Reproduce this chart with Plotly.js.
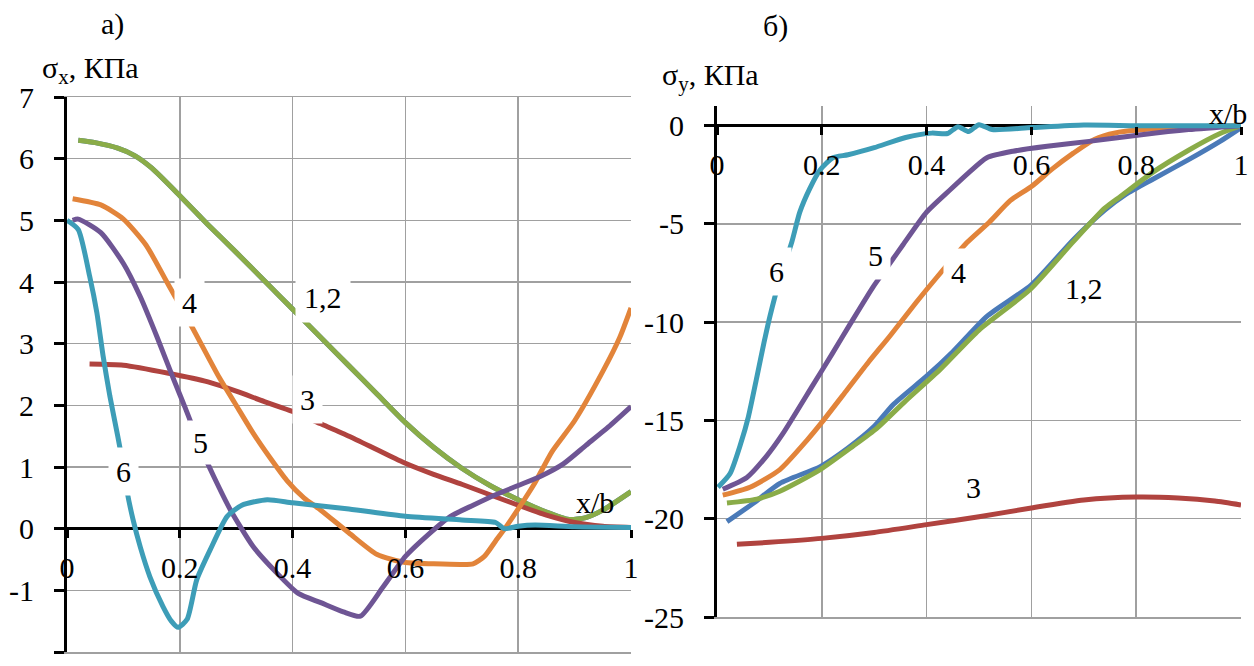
<!DOCTYPE html>
<html><head><meta charset="utf-8">
<script src="https://cdn.plot.ly/plotly-3.0.1.min.js"></script>
<style>html,body{margin:0;padding:0;background:#fff}#chart{width:1254px;height:666px}</style>
</head><body><div id="chart"></div>
<script>
// ---------- σx (left panel a) ----------
const sx1_x = [0.02,0.05,0.09,0.12,0.15,0.2,0.25,0.3,0.35,0.4,0.45,0.5,0.55,0.6,0.65,0.7,0.75,0.8,0.85,0.89,0.92,0.95,1.0];
const sx1_y = [6.30,6.26,6.17,6.05,5.85,5.4,4.93,4.48,4.02,3.56,3.1,2.64,2.18,1.72,1.32,0.98,0.7,0.47,0.27,0.15,0.18,0.3,0.6];
const sx2_x = [0.02,0.05,0.09,0.12,0.15,0.2,0.25,0.3,0.35,0.4,0.45,0.5,0.55,0.6,0.65,0.7,0.75,0.8,0.85,0.89,0.92,0.95,1.0];
const sx2_y = [6.30,6.26,6.17,6.05,5.85,5.4,4.93,4.48,4.02,3.56,3.1,2.64,2.18,1.72,1.32,0.98,0.7,0.47,0.27,0.15,0.18,0.3,0.6];
const sx3_x = [0.04,0.1,0.18,0.25,0.3,0.35,0.4,0.45,0.5,0.55,0.6,0.65,0.7,0.75,0.8,0.85,0.9,0.95,1.0];
const sx3_y = [2.67,2.65,2.52,2.38,2.23,2.06,1.9,1.7,1.5,1.28,1.06,0.88,0.72,0.55,0.38,0.22,0.1,0.04,0.02];
const sx4_x = [0.01,0.06,0.1,0.14,0.18,0.22,0.27,0.3,0.33,0.36,0.39,0.42,0.45,0.5,0.55,0.6,0.65,0.7,0.72,0.74,0.76,0.78,0.8,0.83,0.86,0.9,0.95,0.98,1.0];
const sx4_y = [5.35,5.25,5.02,4.6,3.95,3.3,2.45,2.0,1.55,1.15,0.78,0.5,0.3,-0.07,-0.42,-0.55,-0.57,-0.58,-0.57,-0.45,-0.2,0.05,0.32,0.75,1.25,1.75,2.55,3.1,3.58];
const sx5_x = [0.01,0.02,0.06,0.1,0.13,0.16,0.19,0.21,0.24,0.26,0.29,0.33,0.37,0.41,0.45,0.49,0.52,0.56,0.6,0.64,0.68,0.72,0.76,0.8,0.84,0.88,0.92,0.96,1.0];
const sx5_y = [5.0,5.02,4.8,4.3,3.76,3.1,2.4,1.95,1.25,0.85,0.3,-0.29,-0.7,-1.05,-1.2,-1.35,-1.42,-0.95,-0.45,-0.1,0.2,0.38,0.55,0.7,0.85,1.05,1.35,1.65,1.98];
const sx6_x = [0.0,0.02,0.04,0.053,0.064,0.076,0.09,0.1,0.106,0.117,0.13,0.147,0.17,0.185,0.197,0.213,0.23,0.254,0.284,0.31,0.355,0.4,0.5,0.6,0.7,0.76,0.775,0.8,0.83,0.9,1.0];
const sx6_y = [5.0,4.85,4.1,3.5,2.8,2.15,1.5,1.0,0.63,0.15,-0.3,-0.78,-1.26,-1.5,-1.6,-1.47,-0.83,-0.34,0.2,0.38,0.47,0.42,0.32,0.2,0.14,0.1,0.0,0.04,0.06,0.03,0.02];

// ---------- σy (right panel б) ----------
const sy1_x = [0.019,0.07,0.12,0.197,0.25,0.3,0.336,0.4,0.45,0.515,0.6,0.68,0.74,0.78,0.83,0.9,0.96,1.0];
const sy1_y = [-20.15,-19.2,-18.2,-17.35,-16.4,-15.3,-14.2,-12.75,-11.5,-9.7,-8.1,-5.8,-4.3,-3.5,-2.75,-1.73,-0.8,-0.1];
const sy2_x = [0.019,0.076,0.12,0.197,0.26,0.305,0.36,0.426,0.5,0.597,0.68,0.74,0.77,0.83,0.9,0.96,1.0];
const sy2_y = [-19.2,-19.0,-18.6,-17.5,-16.3,-15.4,-14.0,-12.4,-10.4,-8.35,-5.9,-4.2,-3.6,-2.4,-1.25,-0.4,0.0];
const sy3_x = [0.038,0.1,0.2,0.3,0.4,0.5,0.6,0.7,0.8,0.88,0.95,1.0];
const sy3_y = [-21.3,-21.2,-21.0,-20.7,-20.3,-19.9,-19.45,-19.05,-18.9,-18.95,-19.1,-19.3];
const sy4_x = [0.011,0.063,0.12,0.172,0.2,0.248,0.29,0.33,0.38,0.42,0.477,0.52,0.56,0.6,0.64,0.68,0.72,0.76,0.87,1.0];
const sy4_y = [-18.8,-18.4,-17.5,-16.0,-15.1,-13.45,-12.0,-10.7,-9.0,-7.7,-5.95,-4.9,-3.8,-3.1,-2.2,-1.4,-0.7,-0.37,-0.1,0.0];
const sy5_x = [0.011,0.057,0.095,0.125,0.183,0.22,0.254,0.298,0.33,0.355,0.4,0.445,0.48,0.515,0.565,0.63,0.71,0.81,0.9,1.0];
const sy5_y = [-18.5,-17.9,-16.8,-15.7,-13.2,-11.6,-10.1,-8.2,-7.0,-6.06,-4.4,-3.26,-2.4,-1.63,-1.3,-1.05,-0.8,-0.46,-0.2,0.0];
const sy6_x = [0.002,0.025,0.045,0.06,0.076,0.09,0.101,0.12,0.143,0.158,0.177,0.197,0.221,0.25,0.3,0.36,0.41,0.44,0.46,0.48,0.5,0.525,0.6,0.7,0.8,0.9,1.0];
const sy6_y = [-18.4,-17.7,-16.2,-14.8,-12.8,-11.0,-9.7,-7.8,-5.9,-4.4,-3.2,-2.24,-1.63,-1.48,-1.12,-0.6,-0.38,-0.4,-0.05,-0.3,0.05,-0.2,-0.1,0.03,0.0,0.0,0.0];

// ---------- tick labels ----------
const leftYTicks = [-2,-1,0,1,2,3,4,5,6,7];
const leftYText = ['-2','-1','0','1','2','3','4','5','6','7'];
const rightYTicks = [-25,-20,-15,-10,-5,0];
const rightYText = ['-25','-20','-15','-10','-5','0'];
const xTicks = [0,0.2,0.4,0.6,0.8,1];
const xText = ['0','0.2','0.4','0.6','0.8','1'];

const COLORS = ['#4a7ab8','#8aac48','#b0433f','#e2843a','#6e5594','#3d9db7'];
const GRID = '#a0a0a0';
const FONT = '"Times New Roman", "Liberation Serif", "DejaVu Serif", serif';
const W = 1254, H = 666;

const leftSets = [[sx1_x,sx1_y],[sx2_x,sx2_y],[sx3_x,sx3_y],[sx4_x,sx4_y],[sx5_x,sx5_y],[sx6_x,sx6_y]];
const rightSets = [[sy1_x,sy1_y],[sy2_x,sy2_y],[sy3_x,sy3_y],[sy4_x,sy4_y],[sy5_x,sy5_y],[sy6_x,sy6_y]];

const traces = [];
leftSets.forEach((s,i)=>traces.push({x:s[0],y:s[1],xaxis:'x3',yaxis:'y',mode:'lines',
  line:{color:COLORS[i],width:5,shape:'spline',smoothing:0.6},hoverinfo:'skip',showlegend:false}));
rightSets.forEach((s,i)=>traces.push({x:s[0],y:s[1],xaxis:'x4',yaxis:'y2',mode:'lines',
  line:{color:COLORS[i],width:5,shape:'spline',smoothing:0.6},hoverinfo:'skip',showlegend:false}));

const tf = {family:FONT,size:30,color:'#000'};
const px = v=>v/W, py = v=>(H-v)/H;

const gridX = {range:[0,1],tickmode:'array',tickvals:xTicks,showgrid:true,gridcolor:GRID,gridwidth:1.5,
  showticklabels:false,ticks:'',zeroline:false,showline:true,linecolor:GRID,linewidth:1.5,fixedrange:true};
const labX = {range:[0,1],tickmode:'array',tickvals:xTicks,ticktext:xText,showgrid:false,zeroline:false,showline:false,
  ticks:'outside',ticklen:8,tickwidth:3,tickcolor:'#000',tickfont:tf,ticklabelstandoff:4,fixedrange:true};
const yBase = {showgrid:true,gridcolor:GRID,gridwidth:1.5,zeroline:true,zerolinecolor:'#000',zerolinewidth:3,
  showline:true,linecolor:'#000',linewidth:3,ticks:'outside',ticklen:10,tickwidth:3,tickcolor:'#000',
  tickfont:tf,ticklabelstandoff:14,tickmode:'array',fixedrange:true};
const ann = (text,xref,yref,x,y,extra)=>Object.assign({text:text,xref:xref,yref:yref,x:x,y:y,
  xanchor:'center',yanchor:'middle',showarrow:false,font:{family:FONT,size:30,color:'#000'}},extra||{});

const layout = {
  width:W,height:H,margin:{l:0,r:0,t:0,b:0},paper_bgcolor:'#fff',plot_bgcolor:'#fff',
  showlegend:false,font:{family:FONT,color:'#000'},
  xaxis:Object.assign({},gridX,{domain:[px(67),px(631)],anchor:'y',mirror:true}),
  yaxis:Object.assign({},yBase,{domain:[py(652),py(97)],range:[-2,7],tickvals:leftYTicks,ticktext:leftYText,anchor:'x'}),
  xaxis3:Object.assign({},labX,{domain:[px(67),px(631)],overlaying:'x',anchor:'free',position:py(529)}),
  xaxis2:Object.assign({},gridX,{domain:[px(717),px(1241)],anchor:'y2',mirror:false}),
  yaxis2:Object.assign({},yBase,{domain:[py(617),py(106)],range:[-25,1],tickvals:rightYTicks,ticktext:rightYText,anchor:'x2'}),
  xaxis4:Object.assign({},labX,{domain:[px(717),px(1241)],overlaying:'x2',anchor:'free',position:py(126)}),
  annotations:[
    ann('а)','paper','paper',px(112),py(24)),
    ann('б)','paper','paper',px(775),py(26)),
    ann('σ<sub>x</sub>, КПа','paper','paper',px(40),py(70),{xanchor:'left'}),
    ann('σ<sub>y</sub>, КПа','paper','paper',px(660),py(77),{xanchor:'left'}),
    ann('x/b','x','y',0.936,0.42),
    ann('x/b','x2','y2',0.975,0.6),
    // curve labels, left
    ann('1,2','x','y',0.454,3.75,{bgcolor:'#fff',borderpad:8}),
    ann('3','x','y',0.427,2.1,{bgcolor:'#fff',borderpad:7}),
    ann('4','x','y',0.218,3.66,{bgcolor:'#fff',borderpad:7}),
    ann('5','x','y',0.237,1.39,{bgcolor:'#fff',borderpad:5}),
    ann('6','x','y',0.101,0.92,{bgcolor:'#fff',borderpad:7}),
    // curve labels, right
    ann('6','x2','y2',0.113,-7.43,{bgcolor:'#fff',borderpad:7}),
    ann('5','x2','y2',0.302,-6.62,{bgcolor:'#fff',borderpad:7}),
    ann('4','x2','y2',0.46,-7.48,{bgcolor:'#fff',borderpad:7}),
    ann('1,2','x2','y2',0.7,-8.3),
    ann('3','x2','y2',0.489,-18.4)
  ]
};
Plotly.newPlot('chart',traces,layout,{staticPlot:true,displayModeBar:false});
</script>
</body></html>
